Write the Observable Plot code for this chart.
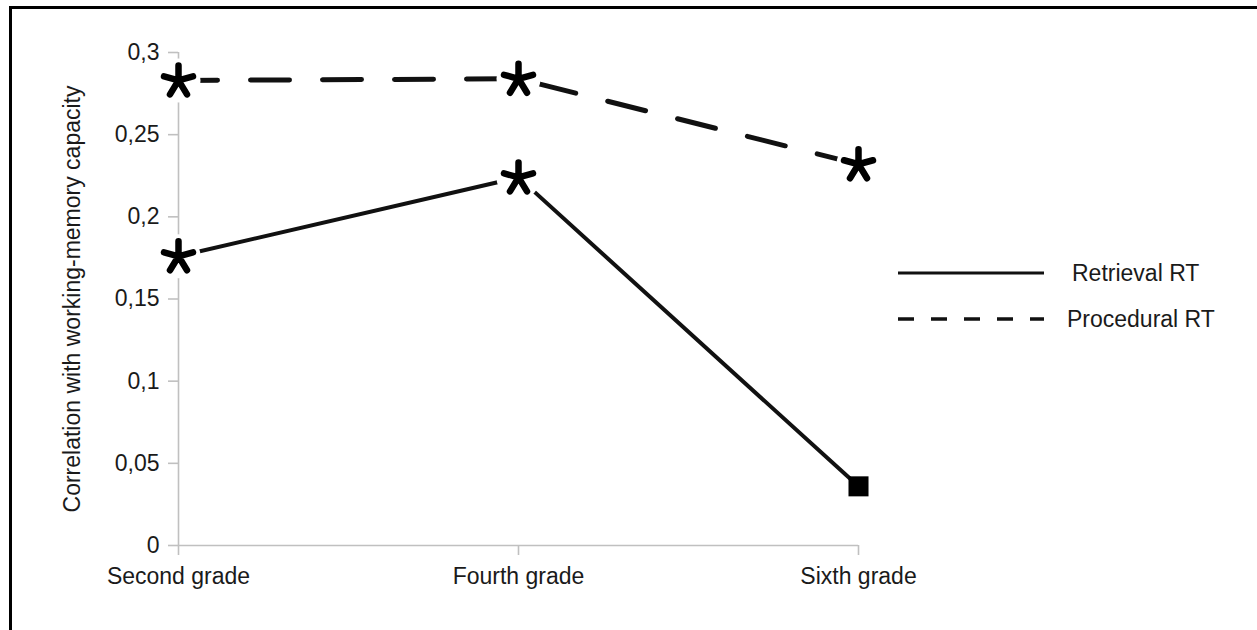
<!DOCTYPE html>
<html><head><meta charset="utf-8">
<script src="https://cdn.jsdelivr.net/npm/d3@7"></script>
<script src="https://cdn.jsdelivr.net/npm/@observablehq/plot@0.6"></script>
<style>
html,body{margin:0;padding:0;background:#fff;overflow:hidden}
#wrap{position:relative;width:1257px;height:630px}
#wrap svg{position:absolute;left:0;top:0}
#frame{position:absolute;left:9px;top:6px;width:1300px;height:700px;border-left:3px solid #000;border-top:3px solid #000;pointer-events:none}
</style></head><body><div id="wrap"><div id="frame"></div></div>
<script>
const grades = ["Second grade", "Fourth grade", "Sixth grade"];
const retrievalRT = [0.176, 0.224, 0.036];
const proceduralRT = [0.283, 0.284, 0.232];
const retrievalMarkers = ["star", "star", "square"];
const proceduralMarkers = ["star", "star", "star"];
const yTicks = [0, 0.05, 0.1, 0.15, 0.2, 0.25, 0.3];
const yLabel = "Correlation with working-memory capacity";
const seriesNames = ["Retrieval RT", "Procedural RT"];

const data = grades.flatMap((g, i) => [
  {grade: g, series: seriesNames[0], value: retrievalRT[i], marker: retrievalMarkers[i]},
  {grade: g, series: seriesNames[1], value: proceduralRT[i], marker: proceduralMarkers[i]}
]);

const asterisk = {
  draw(ctx, size) {
    const s = Math.sqrt(size / Math.PI) / 15;
    const arms = [[0, -15], [14.5, -4], [-14.5, -4], [8.5, 14], [-8.5, 14]];
    for (const [x, y] of arms) { ctx.moveTo(0, 0); ctx.lineTo(x * s, y * s); }
  }
};

const gray = "#c0c0c0";
const font = "'Liberation Sans', Arial, sans-serif";

const chart = Plot.plot({
  width: 1257,
  height: 630,
  marginLeft: 178,
  marginRight: 399,
  marginTop: 52,
  marginBottom: 85,
  style: {fontFamily: font, fontSize: "23px", background: "transparent", color: "#1a1a1a"},
  x: {type: "point", domain: grades, padding: 0},
  y: {domain: [0, 0.3]},
  marks: [
    Plot.ruleY([0], {stroke: gray, strokeWidth: 1.6}),
    Plot.ruleX([grades[0]], {y1: 0, y2: 0.3, stroke: gray, strokeWidth: 1.6}),
    Plot.axisY(yTicks, {tickSize: 10, tickPadding: 9, stroke: gray, strokeWidth: 1.6, fill: "#1a1a1a", fontSize: 23,
      tickFormat: d => String(d).replace(".", ","), label: null}),
    Plot.axisX({tickSize: 10, tickPadding: 12, stroke: gray, strokeWidth: 1.6, fill: "#1a1a1a", fontSize: 23, label: null}),
    Plot.line(data.filter(d => d.series === seriesNames[0]), {x: "grade", y: "value", stroke: "#111", strokeWidth: 4}),
    Plot.line(data.filter(d => d.series === seriesNames[1]), {x: "grade", y: "value", stroke: "#111", strokeWidth: 5, strokeDasharray: "39,33"}),
    Plot.dot(data.filter(d => d.marker === "star"), {x: "grade", y: "value", r: 22, fill: "white", stroke: "none"}),
    Plot.dot(data.filter(d => d.marker === "star"), {x: "grade", y: "value", symbol: asterisk, r: 15, fill: "none", stroke: "#000", strokeWidth: 6.5, strokeLinecap: "round"}),
    Plot.dot(data.filter(d => d.marker === "square"), {x: "grade", y: "value", symbol: "square", r: 11.3, fill: "#000", stroke: "none"}),
    Plot.text([yLabel], {text: d => d, frameAnchor: "left", textAnchor: "middle", rotate: -90, dx: -106, fontSize: 23, fill: "#1a1a1a"})
  ]
});

document.getElementById("wrap").prepend(chart);

// legend (right side)
const svg = d3.select(chart);
const lg = svg.append("g").attr("font-family", font).attr("font-size", 23).attr("fill", "#1a1a1a").attr("text-anchor", "start");
const legendStyles = [
  {dash: null, width: 3},
  {dash: "16,17", width: 3.5}
];
seriesNames.forEach((name, i) => {
  const y = 273 + i * 46;
  lg.append("line").attr("x1", 898).attr("x2", 1044).attr("y1", y).attr("y2", y)
    .attr("stroke", "#111").attr("stroke-width", legendStyles[i].width)
    .attr("stroke-dasharray", legendStyles[i].dash);
  lg.append("text").attr("x", i === 0 ? 1072 : 1067).attr("y", y).attr("dy", "0.35em").text(name);
});
</script></body></html>
